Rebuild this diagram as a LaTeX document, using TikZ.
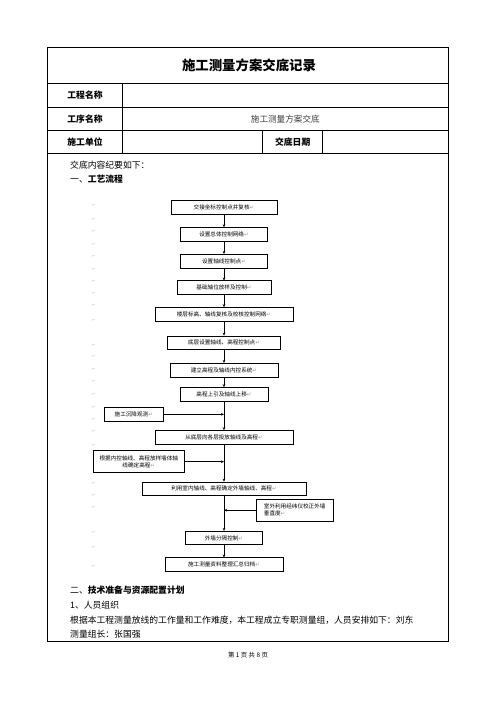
\documentclass[tikz,border=0pt]{standalone}
\usepackage{fontspec}
\setmainfont{Noto Sans CJK SC}
\newfontfamily\symfont{DejaVu Sans}
\usetikzlibrary{arrows.meta, positioning}
\newcommand{\pmark}{{\symfont\color{gray!80}↵}}

\begin{document}
\begin{tikzpicture}[x=1pt, y=-1pt,
		frame/.style={line width=1pt},
		grid_line/.style={line width=0.6pt},
		flow_box/.style={draw, line width=0.5pt, minimum height=13.6pt, inner sep=1pt, font=\fontsize{5.6}{7}\selectfont},
		side_box/.style={flow_box, align=center},
		arrow/.style={-{Stealth[length=3pt, width=2.6pt]}, line width=0.5pt},
		head_label/.style={font=\fontsize{8.8}{10}\selectfont\bfseries},
		body/.style={anchor=west, inner sep=0pt, font=\fontsize{8.8}{10}\selectfont},
		para_mark/.style={font=\symfont\fontsize{3.5}{4}\selectfont, text=gray!70, inner sep=0pt}
		]
		\useasboundingbox[fill=white] (0,0) rectangle (496,702);
		
		% Header table
		\draw[frame] (47,47.5) rectangle (448,641.5);
		\draw[grid_line] (47,83.5) -- (448,83.5);
		\draw[grid_line] (47,107.3) -- (448,107.3);
		\draw[grid_line] (47,130.7) -- (448,130.7);
		\draw[grid_line] (47,153.3) -- (448,153.3);
		\draw[grid_line] (122.3,83.5) -- (122.3,153.3);
		\draw[grid_line] (262.7,130.7) -- (262.7,153.3);
		\draw[grid_line] (322.7,130.7) -- (322.7,153.3);
		
		\node[font=\fontsize{13.4}{15}\selectfont\bfseries] (title) at (249,65.5) {施工测量方案交底记录};
		\node[head_label] (proj) at (85,95.4) {工程名称};
		\node[head_label] (proc) at (85,119) {工序名称};
		\node[head_label] (unit) at (85,142) {施工单位};
		\node[head_label] (date) at (292.7,142) {交底日期};
		\node[font=\fontsize{8.6}{10}\selectfont, text=black!75] (proc_val) at (285.3,119) {施工测量方案交底};
		
		% Body text
		\node[body] (intro) at (70,165) {交底内容纪要如下：};
		\node[body] (sec1) at (70,179.5) {一、\textbf{工艺流程}};
		\node[body] (sec2) at (70,590) {二、\textbf{技术准备与资源配置计划}};
		\node[body] (sub1) at (70,605) {1、人员组织};
		\node[body] (para1) at (70,620) {根据本工程测量放线的工作量和工作难度，本工程成立专职测量组，人员安排如下：刘东};
		\node[body] (para2) at (70,634) {测量组长：张国强};
		\node[font=\fontsize{6.4}{7}\selectfont] (footer) at (248,655.5) {第\ 1\ 页\ 共\ 8\ 页};
		
		% Paragraph marks
		\foreach \y [count=\i] in {205.7,219,231,244,256.7,269,281,293.7,305.7,320.3,345,356.7,369.3,381.7,394.3,407.3,419.3,431.7,445,483.3,495.7,507.7,532.3,547.7,566.7}
		\node[para_mark] (m\i) at (93.5,\y) {↵};
		
		% Main flow
		\node[flow_box, minimum width=106.3pt] (b1) at (224,207) {交接坐标控制点并复核\pmark};
		\node[flow_box, minimum width=87.3pt] (b2) at (224,234.3) {设置总体控制网络\pmark};
		\node[flow_box, minimum width=87.3pt] (b3) at (224,261) {设置轴线控制点\pmark};
		\node[flow_box, minimum width=93.7pt] (b4) at (224,287.5) {基础轴位放样及控制\pmark};
		\node[flow_box, minimum width=138.3pt] (b5) at (224,314.2) {楼层标高、轴线复核及校核控制网络\pmark};
		\node[flow_box, minimum width=112.7pt] (b6) at (224,342.7) {底层设置轴线、高程控制点\pmark};
		\node[flow_box, minimum width=107.7pt] (b7) at (224,370) {建立高程及轴线内控系统\pmark};
		\node[flow_box, minimum width=87.7pt] (b8) at (224,394.2) {高程上引及轴线上移\pmark};
		\node[flow_box, minimum width=137.6pt] (b9) at (224,437.2) {从底层向各层投放轴线及高程\pmark};
		\node[flow_box, minimum width=164.4pt] (b10) at (224,488.7) {利用室内轴线、高程确定外墙轴线、高程\pmark};
		\node[flow_box, minimum width=77.4pt] (b11) at (224,537.9) {外墙分隔控制\pmark};
		\node[flow_box, minimum width=118.4pt] (b12) at (224,564.5) {施工测量资料整理汇总归档\pmark};
		
		% Side inputs
		\node[flow_box, minimum width=59pt] (s1) at (133.8,414.3) {施工沉降观测\pmark};
		\node[side_box, minimum width=91pt, minimum height=22pt] (s2) at (138.8,461.7) {根据内控轴线、高程放样墙体轴\\线确定高程\pmark};
		\node[flow_box, align=left, minimum width=77.3pt, minimum height=21.7pt] (s3) at (294.7,510.2) {室外利用经纬仪校正外墙\\垂直度\pmark};
		
		\foreach \a/\b in {b1/b2, b2/b3, b3/b4, b4/b5, b5/b6, b6/b7, b7/b8, b8/b9, b9/b10, b10/b11, b11/b12}
		\draw[arrow] (\a.south) -- (\b.north);
		
		\draw[arrow] (s1.east) -- (s1.east -| b9);
		\draw[arrow] (s2.east) -- (s2.east -| b9);
		\draw[arrow] (s3.west) -- (s3.west -| b10);
		
	\end{tikzpicture}
\end{document}
